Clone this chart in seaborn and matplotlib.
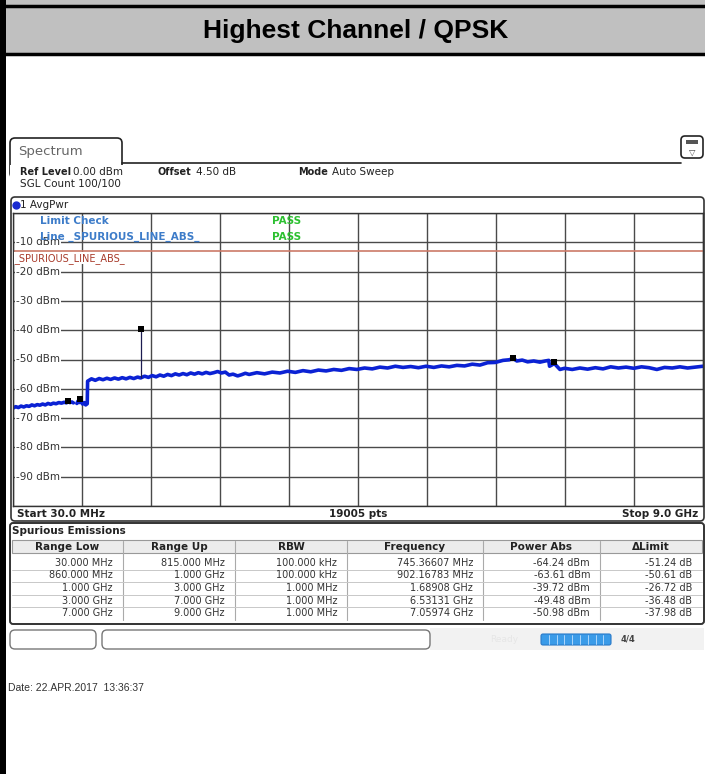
import matplotlib
matplotlib.use("Agg")
import matplotlib.pyplot as plt
import seaborn as sns
import numpy as np
import pandas as pd
from matplotlib.patches import FancyBboxPatch, Rectangle

# trace below 815 MHz (100 kHz RBW), MHz / dBm
low_freq = [30, 65, 100, 135, 170, 205, 240, 275, 310, 345, 380, 415, 450,
            485, 520, 555, 590, 625, 660, 695, 725, 745, 770, 795, 815]
low_dbm = [-66.6, -66.1, -66.4, -65.9, -66.2, -65.8, -66.0, -65.5, -65.8,
           -65.4, -65.6, -65.2, -65.5, -65.0, -65.3, -64.9, -65.1, -64.7,
           -64.9, -64.6, -64.8, -64.3, -64.7, -64.5, -64.8]

# trace from 860 MHz to 9 GHz
main_freq = [860, 875, 890, 902, 915, 935, 955, 975, 995,
             1000, 1050, 1100, 1150, 1200, 1250, 1300, 1350, 1400, 1450, 1500,
             1550, 1600, 1650, 1689, 1740, 1790, 1840, 1890, 1940, 1990, 2040,
             2090, 2140, 2190, 2240, 2290, 2340, 2390, 2440, 2490, 2540, 2590,
             2640, 2690, 2740, 2790, 2840, 2890, 2950, 3000,
             3050, 3100, 3200, 3300, 3400, 3500, 3600, 3700, 3800, 3900, 4000,
             4100, 4200, 4300, 4400, 4500, 4600, 4700, 4800, 4900, 5000, 5100,
             5200, 5300, 5400, 5500, 5600, 5700, 5800, 5900, 6000, 6100, 6200,
             6300, 6400, 6480, 6531, 6580, 6650, 6720, 6800, 6880, 6950, 6995,
             7005, 7040, 7060, 7090, 7140, 7200, 7300, 7400, 7500, 7600, 7700,
             7800, 7900, 8000, 8100, 8200, 8300, 8400, 8500, 8600, 8700, 8800,
             8900, 9000]
main_dbm = [-65.0, -64.2, -64.7, -63.8, -64.5, -65.2, -64.7, -65.5, -65.1,
            -57.4, -56.6, -57.1, -56.5, -56.9, -56.4, -56.8, -56.3, -56.7,
            -56.2, -56.6, -56.1, -56.5, -56.0, -56.3, -55.7, -56.1, -55.5,
            -55.9, -55.3, -55.7, -55.1, -55.5, -54.9, -55.3, -54.8, -55.2,
            -54.6, -55.0, -54.5, -54.9, -54.4, -54.8, -54.5, -54.1, -54.6,
            -54.3, -55.3, -55.0, -55.6, -55.2,
            -54.7, -55.1, -54.5, -54.9, -54.3, -54.6, -54.0, -54.4, -53.8,
            -54.2, -53.6, -53.9, -53.4, -53.7, -53.1, -53.4, -52.9, -53.2,
            -52.6, -52.9, -52.3, -52.7, -52.4, -52.8, -52.3, -52.7, -52.2,
            -52.5, -52.0, -52.2, -51.6, -51.9, -51.1, -51.0, -50.3, -50.1,
            -49.6, -50.5, -50.2, -50.8, -50.5, -50.9, -50.5, -50.3,
            -52.3, -51.8, -51.0, -52.0, -53.4, -53.0, -53.4, -52.9, -53.3,
            -52.8, -53.2, -52.5, -52.9, -52.6, -53.0, -52.5, -52.8, -53.4,
            -52.7, -52.9, -52.5, -52.9, -52.6, -52.3]

limit_dbm = -13.0
level_ticks = [-10, -20, -30, -40, -50, -60, -70, -80, -90]

# spurious emissions table
range_low = ["30.000 MHz", "860.000 MHz", "1.000 GHz", "3.000 GHz", "7.000 GHz"]
range_up = ["815.000 MHz", "1.000 GHz", "3.000 GHz", "7.000 GHz", "9.000 GHz"]
rbw = ["100.000 kHz", "100.000 kHz", "1.000 MHz", "1.000 MHz", "1.000 MHz"]
peak_freq = [745.36607, 902.16783, 1689.08, 6531.31, 7059.74]  # MHz
peak_dbm = [-64.24, -63.61, -39.72, -49.48, -50.98]

sns.set_style("white")
plt.rcParams["font.family"] = ["DejaVu Sans"]

W, H = 705, 774
fig = plt.figure(figsize=(W / 100, H / 100), dpi=100)
bg = fig.add_axes([0, 0, 1, 1])
bg.set_xlim(0, W)
bg.set_ylim(H, 0)
bg.axis("off")

# report frame + title band
bg.add_patch(Rectangle((0, 0), W, 55, color="#c0c0c0", lw=0))
bg.plot([0, W], [6, 6], color="black", lw=2.5)
bg.plot([0, W], [54, 54], color="black", lw=2.5)
bg.add_patch(Rectangle((0, 0), 6, H, color="black", lw=0))
bg.text(356, 31, "Highest Channel / QPSK", ha="center", va="center",
        family="Liberation Sans", weight="bold", size=19, color="black")

# spectrum tab and header
bg.add_patch(FancyBboxPatch((10, 138), 112, 40, boxstyle="round,pad=0,rounding_size=5",
                            fc="white", ec="#222", lw=1.2))
bg.plot([122, 681], [163, 163], color="#222", lw=1.2)
bg.text(18, 151, "Spectrum", size=9.5, color="#666", va="center")
bg.add_patch(FancyBboxPatch((681, 136), 22, 22, boxstyle="round,pad=0,rounding_size=4",
                            fc="white", ec="#222", lw=1.2))
bg.add_patch(Rectangle((686, 140), 12, 4, fc="#555", lw=0))
bg.text(692, 152, "\u25bd", size=6, ha="center", va="center", color="#444")
bg.add_patch(Rectangle((10, 165), 694, 30, fc="white", lw=0))

hdr_kw = dict(size=7.5, va="center", color="#222")
bold_kw = dict(size=7, va="center", color="#222", weight="bold")
bg.text(20, 172, "Ref Level", **bold_kw)
bg.text(73, 172, "0.00 dBm", **hdr_kw)
bg.text(158, 172, "Offset", **bold_kw)
bg.text(196, 172, "4.50 dB", **hdr_kw)
bg.text(298, 172, "Mode", **bold_kw)
bg.text(332, 172, "Auto Sweep", **hdr_kw)
bg.text(20, 184, "SGL Count 100/100", **hdr_kw)

# diagram box
bg.add_patch(FancyBboxPatch((11, 197), 693, 324, boxstyle="round,pad=0,rounding_size=4",
                            fc="white", ec="#333", lw=1.2))
bg.plot(15.5, 205, "o", ms=5, color="#1a2ad0")
bg.text(20, 205, "1 AvgPwr", **hdr_kw)
bg.text(17, 514, "Start 30.0 MHz", **dict(bold_kw, size=7.5))
bg.text(358, 514, "19005 pts", ha="center", **dict(bold_kw, size=7.5))
bg.text(698, 514, "Stop 9.0 GHz", ha="right", **dict(bold_kw, size=7.5))

ax = fig.add_axes([13 / W, 1 - 506 / H, 690 / W, 293 / H])
trace = pd.DataFrame({
    "freq": low_freq + main_freq,
    "level": low_dbm + main_dbm,
    "seg": [0] * len(low_freq) + [1] * len(main_freq),
})
sns.lineplot(data=trace, x="freq", y="level", units="seg", estimator=None,
             sort=False, color="#0b22d4", lw=2.6, ax=ax)
base = np.interp(peak_freq, main_freq, main_dbm)
ax.vlines(peak_freq, base, peak_dbm, color="#1c1c50", lw=0.9, zorder=3)
sns.scatterplot(x=peak_freq, y=peak_dbm, marker="s", s=14, color="black",
                linewidth=0, ax=ax, zorder=4)
ax.axhline(limit_dbm, color="#cc7a68", lw=1.2, zorder=2)

ax.set_xlim(30, 9000)
ax.set_ylim(-100, 0)
ax.set_xticks(np.linspace(30, 9000, 11))
ax.set_yticks(np.arange(-100, 1, 10))
ax.grid(True, color="#4a4a4a", lw=1)
ax.tick_params(length=0, labelleft=False, labelbottom=False)
ax.set_xlabel("")
ax.set_ylabel("")
for sp in ax.spines.values():
    sp.set_color("#333")
    sp.set_linewidth(1)

ytr = ax.get_yaxis_transform()
for lv in level_ticks:
    ax.text(0.004, lv, f"{lv} dBm", transform=ytr, size=7.5, va="center",
            color="#333", bbox=dict(fc="white", ec="none", pad=0.6), zorder=5)
ax.text(0.002, limit_dbm - 2.4, "_SPURIOUS_LINE_ABS_", transform=ytr, size=7,
        va="center", color="#a83a2a", bbox=dict(fc="white", ec="none", pad=0.5), zorder=5)
ax.text(40, 221, "Limit Check", transform=bg.transData, size=7.5, weight="bold",
        color="#3d7cc9", va="center", zorder=6)
ax.text(40, 237, "Line _SPURIOUS_LINE_ABS_", transform=bg.transData, size=7.5,
        weight="bold", color="#3d7cc9", va="center", zorder=6)
for yy in (221, 237):
    ax.text(272, yy, "PASS", transform=bg.transData, size=7.5, weight="bold",
            color="#2cc030", va="center", zorder=6)

# spurious emissions table
bg.add_patch(FancyBboxPatch((10, 523), 694, 101, boxstyle="round,pad=0,rounding_size=3",
                            fc="white", ec="#333", lw=1.4))
bg.text(12, 531, "Spurious Emissions", **dict(bold_kw, size=7.5))
edges = [12, 123, 235, 347, 483, 600, 702]
bg.add_patch(Rectangle((12, 540), 690, 13, fc="#ececec", ec="#999", lw=0.8))
headers = ["Range Low", "Range Up", "RBW", "Frequency", "Power Abs", "\u0394Limit"]
for i, h in enumerate(headers):
    bg.text((edges[i] + edges[i + 1]) / 2, 547, h, ha="center", **dict(bold_kw, size=7.5))
for e in edges[1:-1]:
    bg.plot([e, e], [541, 620], color="#aaa", lw=0.8)
freq_txt = [f"{f:.5f} MHz" if f < 1000 else f"{f / 1000:.5f} GHz" for f in peak_freq]
power_txt = [f"{p:.2f} dBm" for p in peak_dbm]
delta_txt = [f"{p - limit_dbm:.2f} dB" for p in peak_dbm]
row_y, row_h = 557, 12.5
for r in range(len(range_low)):
    yc = row_y + row_h * r + 6
    if r < len(range_low) - 1:
        bg.plot([12, 702], [row_y + row_h * (r + 1)] * 2, color="#c8c8c8", lw=0.7)
    cells = [range_low[r], range_up[r], rbw[r], freq_txt[r], power_txt[r], delta_txt[r]]
    for i, c in enumerate(cells):
        bg.text(edges[i + 1] - 10, yc, c, ha="right", size=7, va="center", color="#333")

# status bar
bg.add_patch(Rectangle((430, 628), 274, 22, fc="#f2f2f2", lw=0))
bg.add_patch(FancyBboxPatch((10, 630), 86, 19, boxstyle="round,pad=0,rounding_size=5",
                            fc="white", ec="#777", lw=1))
bg.add_patch(FancyBboxPatch((102, 630), 328, 19, boxstyle="round,pad=0,rounding_size=5",
                            fc="white", ec="#777", lw=1))
bg.text(490, 639, "Ready", size=6.5, color="#e6e6e6", va="center")
bg.add_patch(FancyBboxPatch((541, 634), 70, 11, boxstyle="round,pad=0,rounding_size=2",
                            fc="#3a9be8", ec="#2a7ac8", lw=0.8))
for k in range(1, 9):
    bg.plot([541 + 7.8 * k, 541 + 7.8 * k], [635, 644], color="#bfe0ff", lw=0.6)
bg.text(628, 639, "4/4", size=6, weight="bold", color="#444", ha="center", va="center")

bg.text(8, 688, "Date: 22.APR.2017  13:36:37", family="Liberation Sans",
        size=7.5, color="#333", va="center")

fig.savefig("out.png", dpi=100)
